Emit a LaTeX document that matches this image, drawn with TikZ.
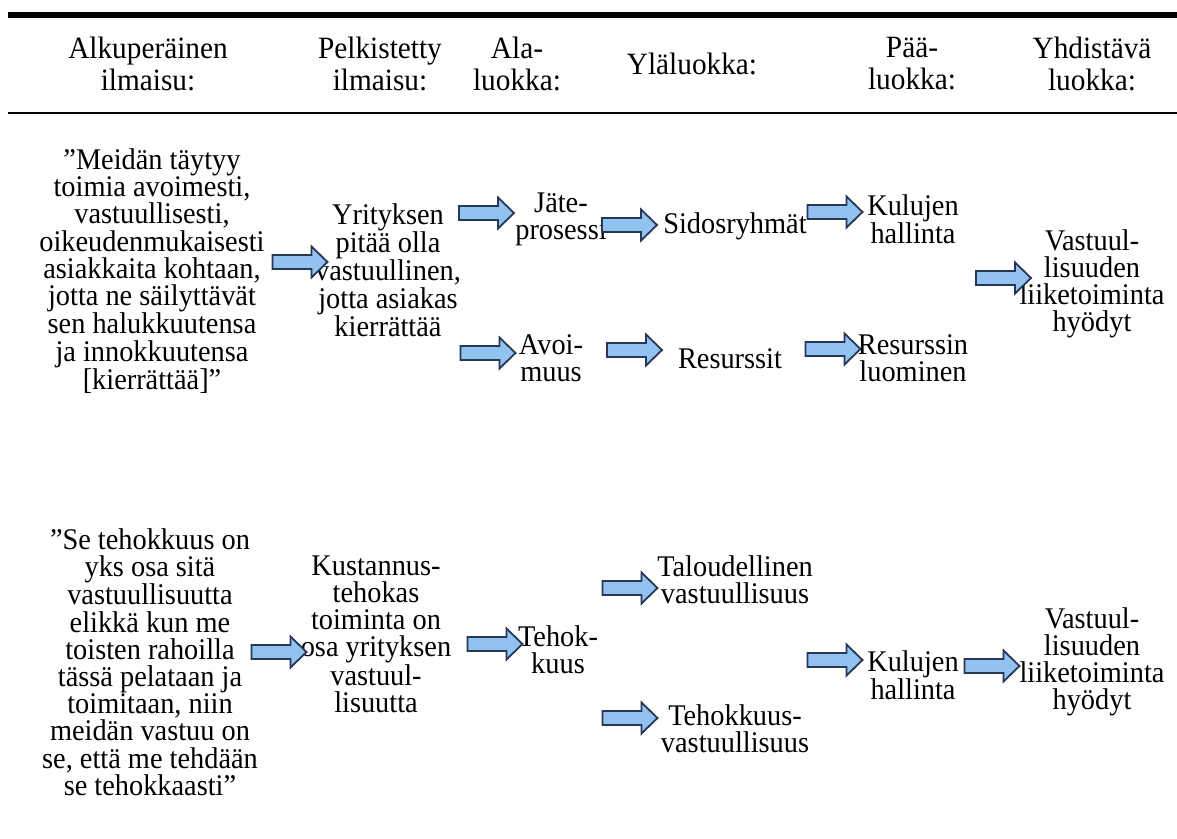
\documentclass[tikz,border=0pt]{standalone}
\usepackage{fontspec}
\setmainfont{Liberation Serif}
\newfontfamily\tallserif[FakeStretch=0.945]{Liberation Serif}
\definecolor{arrowfill}{RGB}{146,195,240}
\definecolor{arrowline}{RGB}{38,56,86}
\tikzset{
  hdr/.style={font=\tallserif\fontsize{31}{32}\selectfont, align=center, inner sep=0pt},
  txt/.style={font=\tallserif\fontsize{30}{27.2}\selectfont, align=center, inner sep=0pt},
  arrowlook/.style={draw=arrowline, fill=arrowfill, line width=1.8pt, line join=miter},
  barrow/.pic={\draw[arrowlook] (-27.5,-7) -- (11.5,-7) -- (11.5,-15.5) -- (27.5,0)
     -- (11.5,15.5) -- (11.5,7) -- (-27.5,7) -- cycle;}
}
\begin{document}
\begin{tikzpicture}[x=1pt,y=-1pt]
\useasboundingbox (0,0) rectangle (1177,838);
\fill[white] (0,0) rectangle (1177,838);

% table rules
\draw[line width=6pt] (8,15) -- (1177,15);
\draw[line width=2pt] (8,113) -- (1177,113);

% column headings
\node[hdr] (h1) at (148,64) {Alkuperäinen\\ilmaisu:};
\node[hdr] (h2) at (380,64) {Pelkistetty\\ilmaisu:};
\node[hdr] (h3) at (517,64) {Ala-\\luokka:};
\node[hdr] (h4) at (692,64) {Yläluokka:};
\node[hdr] (h5) at (912,64) {Pää-\\luokka:};
\node[hdr] (h6) at (1092,64) {Yhdistävä\\luokka:};

% first chain
\node[txt] (q1) at (152,271) {”Meidän täytyy\\toimia avoimesti,\\vastuullisesti,\\oikeudenmukaisesti\\asiakkaita kohtaan,\\jotta ne säilyttävät\\sen halukkuutensa\\ja innokkuutensa\\{[}kierrättää{]}”};
\node[txt] (p1) at (388,270) {Yrityksen\\pitää olla\\vastuullinen,\\jotta asiakas\\kierrättää};
\node[txt] (a1) at (561,219) {Jäte-\\prosessi};
\node[txt] (a2) at (551,358) {Avoi-\\muus};
\node[txt] (y1) at (735,226) {Sidosryhmät};
\node[txt] (y2) at (730,359) {Resurssit};
\node[txt] (m1) at (913,219) {Kulujen\\hallinta};
\node[txt] (m2) at (913,358) {Resurssin\\luominen};
\node[txt] (c1) at (1092,284) {Vastuul-\\lisuuden\\liiketoiminta\\hyödyt};

\pic (r1) at (300,262) {barrow};
\pic (r2) at (486.5,213) {barrow};
\pic (r3) at (629.5,225) {barrow};
\pic (r4) at (835,212) {barrow};
\pic (r5) at (1003.5,278) {barrow};
\pic (r6) at (488,353) {barrow};
\pic (r7) at (634.5,350) {barrow};
\pic (r8) at (833,349) {barrow};

% second chain
\node[txt] (q2) at (150,662) {”Se tehokkuus on\\yks osa sitä\\vastuullisuutta\\elikkä kun me\\toisten rahoilla\\tässä pelataan ja\\toimitaan, niin\\meidän vastuu on\\se, että me tehdään\\se tehokkaasti”};
\node[txt] (p2) at (376,634) {Kustannus-\\tehokas\\toiminta on\\osa yrityksen\\vastuul-\\lisuutta};
\node[txt] (a3) at (558,650) {Tehok-\\kuus};
\node[txt] (y3) at (735,580) {Taloudellinen\\vastuullisuus};
\node[txt] (y4) at (735,729) {Tehokkuus-\\vastuullisuus};
\node[txt] (m3) at (913,675) {Kulujen\\hallinta};
\node[txt] (c2) at (1092,662) {Vastuul-\\lisuuden\\liiketoiminta\\hyödyt};

\pic (s1) at (279,652) {barrow};
\pic (s2) at (495,644) {barrow};
\pic (s3) at (630,588) {barrow};
\pic (s4) at (630,718) {barrow};
\pic (s5) at (835,660) {barrow};
\pic (s6) at (992,666) {barrow};
\end{tikzpicture}
\end{document}
